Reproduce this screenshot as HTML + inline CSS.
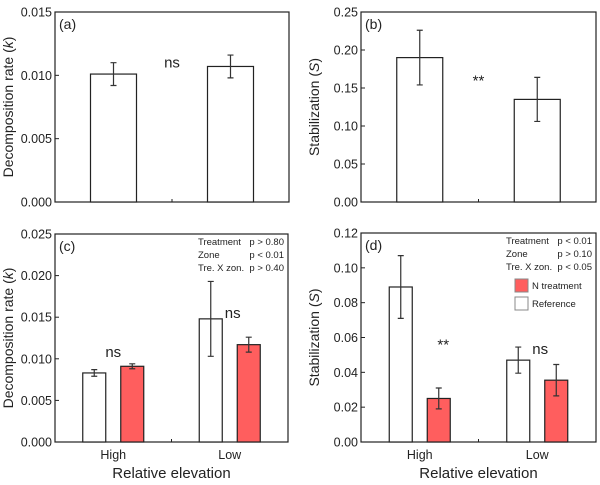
<!DOCTYPE html>
<html><head><meta charset="utf-8"><style>
body{margin:0;background:#fff;}
svg text{font-family:"Liberation Sans",sans-serif;fill:#222;}
</style></head><body>
<svg id="c" width="600" height="480" xmlns="http://www.w3.org/2000/svg"></svg>
<script>
// Panel (a)
const aValues=[0.0101,0.0107];
const aErrors=[0.0009,0.0009];
const aTicks=[0,0.005,0.010,0.015];
const aTickLabels=["0.000","0.005","0.010","0.015"];
// Panel (b)
const bValues=[0.190,0.135];
const bErrors=[0.036,0.029];
const bTicks=[0,0.05,0.10,0.15,0.20,0.25];
const bTickLabels=["0.00","0.05","0.10","0.15","0.20","0.25"];
// Panel (c)
const categories=["High","Low"];
const cRef=[0.0083,0.0148];
const cRefErr=[0.0004,0.0045];
const cN=[0.0091,0.0117];
const cNErr=[0.0003,0.0009];
const cTicks=[0,0.005,0.010,0.015,0.020,0.025];
const cTickLabels=["0.000","0.005","0.010","0.015","0.020","0.025"];
// Panel (d)
const dRef=[0.089,0.047];
const dRefErr=[0.018,0.0075];
const dN=[0.025,0.0355];
const dNErr=[0.006,0.009];
const dTicks=[0,0.02,0.04,0.06,0.08,0.10,0.12];
const dTickLabels=["0.00","0.02","0.04","0.06","0.08","0.10","0.12"];

const svg=document.getElementById('c');
const NS="http://www.w3.org/2000/svg";
function mk(tag,attrs,parent){const e=document.createElementNS(NS,tag);for(const k in attrs)e.setAttribute(k,attrs[k]);(parent||svg).appendChild(e);return e;}
function txt(s,attrs,parent){const e=mk('text',attrs,parent);e.textContent=s;return e;}

function panel(opt){
  const g=mk('g',{});
  
  
  const L=opt.x0,R=opt.x1,T=opt.y0,B=opt.y1,max=opt.max;
  const y=v=>B-(v/max)*(B-T);
  const x=u=>L+(u/4)*(R-L);
  const frame=mk('rect',{x:L,y:T,width:R-L,height:B-T,fill:'none',stroke:'#222','stroke-width':1.2},g);
  
  
  opt.ticks.forEach((t,i)=>{
    const yy=y(t);
    mk('line',{x1:L,x2:L+4,y1:yy,y2:yy,stroke:'#222'},g);
    const tl=txt(opt.tickLabels[i],{x:L-3,y:yy+4.5,'text-anchor':'end','font-size':12.5},g);
    
    
  });
  mk('line',{x1:x(2),x2:x(2),y1:B,y2:B-3,stroke:'#222'},g);
  const cy=(T+B)/2;
  const yt=txt('',{x:0,y:0,transform:`translate(${L-42},${cy}) rotate(-90)`,'text-anchor':'middle','font-size':14},g);
  yt.innerHTML=opt.ytitle;
  
  
  const pl=txt(opt.label,{x:L+4,y:T+17,'font-size':14},g);
  
  
  function bar(cx,w,v,e,fill,nm){
    const r=mk('rect',{x:cx-w/2,y:y(v),width:w,height:B-y(v),fill:fill,stroke:'#222','stroke-width':1.2},g);
    
    
    const eb=mk('path',{d:`M${cx},${y(v+e)}V${y(v-e)}M${cx-3},${y(v+e)}H${cx+3}M${cx-3},${y(v-e)}H${cx+3}`,stroke:'#333','stroke-width':1.2,fill:'none'},g);
    
    
  }
  const xpos=[1,3];
  if(opt.single){
    opt.single.forEach((v,i)=>bar(x(xpos[i]),46,v,opt.singleErr[i],'#fff','bar-'+i));
  } else {
    opt.ref.forEach((v,i)=>bar(x(xpos[i])-19,23,v,opt.refErr[i],'#fff','bar-reference-'+categories[i].toLowerCase()));
    opt.n.forEach((v,i)=>bar(x(xpos[i])+19,23,v,opt.nErr[i],'#ff5e5e','bar-n-treatment-'+categories[i].toLowerCase()));
    categories.forEach((c,i)=>{
      const t=txt(c,{x:x(xpos[i]),y:B+17,'text-anchor':'middle','font-size':12.5},g);
      
      
    });
    const xt=txt('Relative elevation',{x:(L+R)/2,y:B+36,'text-anchor':'middle','font-size':15},g);
    
    
    opt.stats.forEach((s,i)=>{
      const a=txt(s[0],{x:R-90,y:T+11+i*13,'font-size':9.5},g);
      
      
      const b=txt(s[1],{x:R-4,y:T+11+i*13,'font-size':9.5,'text-anchor':'end'},g);
      
      
    });
  }
  (opt.sig||[]).forEach(s=>{
    const t=txt(s[0],{x:x(s[1]),y:y(s[2]),'text-anchor':'middle','font-size':15},g);
    
    
  });
  return {g,x,y,L,R,T,B};
}
panel({name:'panel-a',x0:55,x1:289,y0:12,y1:202,max:0.015,ticks:aTicks,tickLabels:aTickLabels,
  ytitle:'Decomposition rate (<tspan font-style="italic">k</tspan>)',label:'(a)',single:aValues,singleErr:aErrors,sig:[['ns',2,0.0106]]});
panel({name:'panel-b',x0:361,x1:596,y0:12,y1:202,max:0.25,ticks:bTicks,tickLabels:bTickLabels,
  ytitle:'Stabilization (<tspan font-style="italic">S</tspan>)',label:'(b)',single:bValues,singleErr:bErrors,sig:[['**',2,0.153]]});
panel({name:'panel-c',x0:55,x1:288,y0:234,y1:442,max:0.025,ticks:cTicks,tickLabels:cTickLabels,
  ytitle:'Decomposition rate (<tspan font-style="italic">k</tspan>)',label:'(c)',ref:cRef,refErr:cRefErr,n:cN,nErr:cNErr,
  stats:[['Treatment','p > 0.80'],['Zone','p < 0.01'],['Tre. X zon.','p > 0.40']],
  sig:[['ns',1,0.0102],['ns',3.05,0.0149]]});
panel({name:'panel-d',x0:361,x1:596,y0:233,y1:442,max:0.12,ticks:dTicks,tickLabels:dTickLabels,
  ytitle:'Stabilization (<tspan font-style="italic">S</tspan>)',label:'(d)',ref:dRef,refErr:dRefErr,n:dN,nErr:dNErr,
  stats:[['Treatment','p < 0.01'],['Zone','p > 0.10'],['Tre. X zon.','p < 0.05']],
  sig:[['**',1.4,0.053],['ns',3.05,0.0505]]});
// legend
const lg=mk('g',{});


[['N treatment','#ff5e5e'],['Reference','#fff']].forEach((it,i)=>{
  const yy=279+i*18;
  const r=mk('rect',{x:515,y:yy,width:13,height:13,fill:it[1],stroke:'#888','stroke-width':1},lg);
  
  
  const t=txt(it[0],{x:532,y:yy+10,'font-size':9.5},lg);
  
  
});
</script>
</body></html>
